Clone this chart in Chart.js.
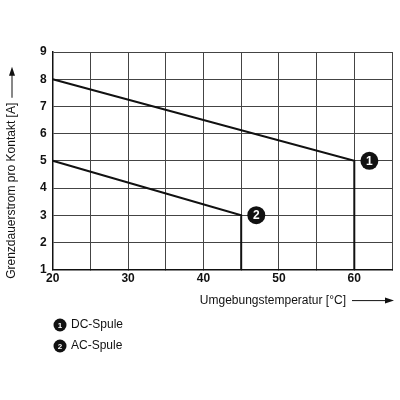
<!DOCTYPE html>
<html><head><meta charset="utf-8">
<script src="https://cdn.jsdelivr.net/npm/chart.js@4/dist/chart.umd.min.js"></script>
<style>html,body{margin:0;background:#fff}#c{width:400px;height:400px}</style>
</head><body><canvas id="c" width="400" height="400"></canvas>
<script>
const dcCurve = [{x:20,y:8},{x:60,y:5},{x:60,y:1}];
const acCurve = [{x:20,y:5},{x:45,y:3},{x:45,y:1}];
const markers = [{x:62,y:5,n:"1"},{x:47,y:3,n:"2"}];
const legendItems = ["DC-Spule","AC-Spule"];
const yTitle = "Grenzdauerstrom pro Kontakt [A]";
const xTitle = "Umgebungstemperatur [°C]";
const FONT = "Liberation Sans, Arial, sans-serif";

function circ(ctx,x,y,n,r){
  ctx.beginPath();ctx.arc(x,y,r,0,Math.PI*2);ctx.fillStyle="#111";ctx.fill();
  ctx.fillStyle="#fff";ctx.font=`bold ${Math.round(r*1.3)}px ${FONT}`;
  ctx.textAlign="center";ctx.textBaseline="middle";ctx.fillText(n,x,y+0.5);
}

const deco = {
  id:"deco",
  afterDatasetsDraw(ch){
    const ctx=ch.ctx, a=ch.chartArea, xs=ch.scales.x, ys=ch.scales.y;
    ctx.save();
    markers.forEach(m=>circ(ctx,xs.getPixelForValue(m.x),ys.getPixelForValue(m.y),m.n,9));
    ctx.fillStyle="#111";ctx.strokeStyle="#111";ctx.lineWidth=1;
    // y title + arrow
    ctx.save();ctx.translate(12,(a.top+a.bottom)/2+30);ctx.rotate(-Math.PI/2);
    ctx.font=`12px ${FONT}`;ctx.textAlign="center";ctx.textBaseline="middle";
    ctx.fillText(yTitle,0,0);
    const w=ctx.measureText(yTitle).width;
    ctx.beginPath();ctx.moveTo(w/2+5,0);ctx.lineTo(w/2+30,0);ctx.stroke();
    ctx.beginPath();ctx.moveTo(w/2+36,0);ctx.lineTo(w/2+27,-3);ctx.lineTo(w/2+27,3);ctx.fill();
    ctx.restore();
    // x title + arrow
    ctx.font=`12px ${FONT}`;ctx.textAlign="right";ctx.textBaseline="middle";
    const ty=a.bottom+31;
    ctx.fillText(xTitle,346,ty);
    ctx.beginPath();ctx.moveTo(352,ty);ctx.lineTo(388,ty);ctx.stroke();
    ctx.beginPath();ctx.moveTo(394,ty);ctx.lineTo(385,ty-3);ctx.lineTo(385,ty+3);ctx.fill();
    // legend
    legendItems.forEach((t,i)=>{
      const ly=325+i*21;
      circ(ctx,60,ly,String(i+1),6.5);
      ctx.fillStyle="#111";ctx.font=`12px ${FONT}`;ctx.textAlign="left";ctx.textBaseline="middle";
      ctx.fillText(t,71,ly);
    });
    ctx.restore();
  }
};

new Chart(document.getElementById("c"),{
  type:"scatter",
  data:{datasets:[
    {data:dcCurve,showLine:true,borderColor:"#111",borderWidth:2,pointRadius:0},
    {data:acCurve,showLine:true,borderColor:"#111",borderWidth:2,pointRadius:0}
  ]},
  options:{
    responsive:false,animation:false,
    layout:{padding:{left:34,right:8,top:52,bottom:112}},
    plugins:{legend:{display:false},tooltip:{enabled:false}},
    scales:{
      x:{type:"linear",min:20,max:65,
        ticks:{stepSize:5,autoSkip:false,maxRotation:0,padding:2,color:"#111",font:{family:FONT,size:12,weight:"bold"},
          callback:v=>v%10===0?v:""},
        grid:{color:"#444",lineWidth:1,tickLength:0},border:{color:"#111",width:1.5}},
      y:{min:1,max:9,
        ticks:{stepSize:1,padding:6,color:"#111",font:{family:FONT,size:12,weight:"bold"}},
        grid:{color:"#444",lineWidth:1,tickLength:0},border:{color:"#111",width:1.5}}
    }
  },
  plugins:[deco]
});
</script></body></html>
